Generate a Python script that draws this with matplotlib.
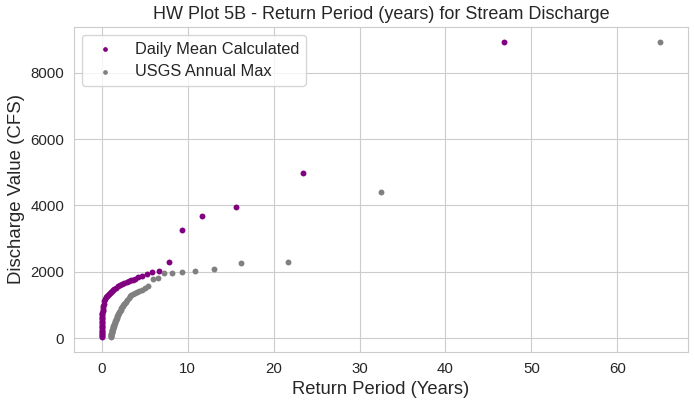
import numpy as np
import matplotlib
matplotlib.use("Agg")
import matplotlib.pyplot as plt
import seaborn as sns

sns.set_style("whitegrid")
plt.rcParams['font.family'] = ['Liberation Sans', 'DejaVu Sans']

# daily mean calculated: return period (years) and discharge (cfs)
daily_T = [46.8, 23.4, 15.6, 11.7, 9.36, 7.8, 6.69, 5.85, 5.2, 4.68, 4.25, 3.9,
           3.6, 3.34, 3.12, 2.93, 2.6, 2.34, 2.13, 1.87, 1.67, 1.46, 1.3, 1.17,
           1.04, 0.94, 0.78, 0.67, 0.55, 0.47, 0.36, 0.28, 0.2, 0.15, 0.094,
           0.08, 0.07, 0.06, 0.05, 0.045, 0.04, 0.035, 0.03, 0.027, 0.024,
           0.021, 0.018, 0.016, 0.014, 0.012, 0.010, 0.009, 0.008, 0.007,
           0.006, 0.005, 0.004, 0.003]
daily_Q = [8940, 4965, 3960, 3685, 3255, 2280, 2010, 2005, 1945, 1880, 1840, 1790,
           1760, 1745, 1720, 1700, 1660, 1620, 1590, 1560, 1525, 1490, 1460, 1430,
           1400, 1370, 1330, 1300, 1260, 1230, 1170, 1110, 1040, 980, 900,
           850, 810, 770, 730, 690, 650, 610, 570, 530, 490,
           450, 410, 370, 330, 290, 250, 215, 180, 145,
           110, 80, 50, 25]

# usgs annual max
usgs_T = [65.0, 32.5, 21.67, 16.25, 13.0, 10.83, 9.29, 8.13, 7.22, 6.5, 5.91, 5.42,
          5.0, 4.64, 4.33, 4.06, 3.82, 3.61, 3.42, 3.25, 3.1, 2.95, 2.83, 2.71,
          2.6, 2.5, 2.41, 2.32, 2.24, 2.17, 2.1, 2.03, 1.97, 1.91, 1.86, 1.81,
          1.76, 1.71, 1.67, 1.63, 1.59, 1.55, 1.51, 1.48, 1.44, 1.41, 1.38, 1.35,
          1.33, 1.3, 1.27, 1.25, 1.23, 1.2, 1.18, 1.16, 1.14, 1.12, 1.1, 1.08,
          1.07, 1.05, 1.03, 1.02]
usgs_Q = [8940, 4418, 2280, 2250, 2097, 2036, 2006, 1975, 1975, 1811, 1792, 1578,
          1500, 1450, 1420, 1400, 1370, 1340, 1300, 1260, 1200, 1150, 1100, 1060,
          1020, 990, 960, 930, 900, 850, 810, 780, 750, 720, 700, 680,
          650, 620, 590, 560, 540, 510, 480, 460, 430, 410, 380, 360,
          340, 310, 290, 270, 250, 230, 210, 190, 170, 150, 130, 110,
          90, 70, 50, 30]

fig = plt.figure(figsize=(6.95, 4.07), dpi=100)
ax = fig.add_axes([0.1065, 0.135, 0.8835, 0.799])

ax.scatter(daily_T, daily_Q, s=18, c='purple', linewidths=0, label='Daily Mean Calculated')
ax.scatter(usgs_T, usgs_Q, s=18, c='grey', linewidths=0, label='USGS Annual Max')

ax.set_title('HW Plot 5B - Return Period (years) for Stream Discharge', fontsize=13)
ax.set_xlabel('Return Period (Years)', fontsize=13.2)
ax.set_ylabel('Discharge Value (CFS)', fontsize=13.4)
ax.tick_params(labelsize=10.8)
ax.legend(loc='upper left', fontsize=11.8, markerscale=0.8, labelspacing=0.45)

fig.savefig("out.png", dpi=100)
